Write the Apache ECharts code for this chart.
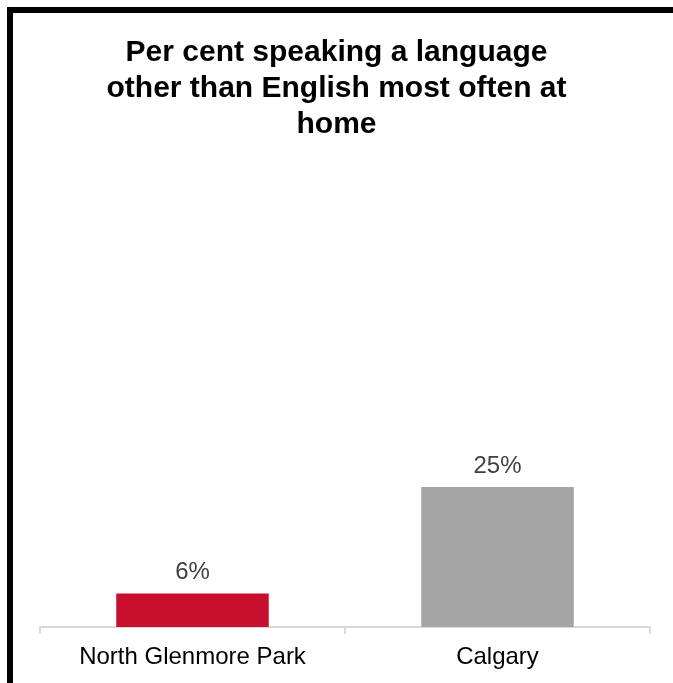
<!DOCTYPE html>
<html>
<head>
<meta charset="utf-8">
<script src="https://cdn.jsdelivr.net/npm/echarts@6/dist/echarts.min.js"></script>
<style>
html,body{margin:0;padding:0;background:#fff;}
#chart{width:673px;height:683px;}
</style>
</head>
<body>
<div id="chart"></div>
<script>
const categories = ['North Glenmore Park', 'Calgary'];
const values = [6, 25];
const barColors = ['#C8102E', '#A5A5A5'];
const titleText = 'Per cent speaking a language\nother than English most often at\nhome';

const chart = echarts.init(document.getElementById('chart'));
chart.setOption({
  animation: false,
  backgroundColor: '#fff',
  title: {
    text: titleText,
    left: 'center',
    top: 30,
    textStyle: {
      fontFamily: 'Liberation Sans',
      fontWeight: 'bold',
      fontSize: 30,
      lineHeight: 36,
      color: '#000'
    }
  },
  graphic: [{
    type: 'rect',
    shape: { x: 10, y: 10, width: 700, height: 700 },
    style: { fill: 'none', stroke: '#000', lineWidth: 6 },
    silent: true
  }],
  grid: { left: 40, right: 23, top: 459, bottom: 56 },
  xAxis: {
    type: 'category',
    data: categories,
    axisLine: { lineStyle: { color: '#D9D9D9', width: 2 } },
    axisTick: { show: true, length: 7, lineStyle: { color: '#D9D9D9', width: 2 } },
    axisLabel: { fontFamily: 'Liberation Sans', fontSize: 24, color: '#000', margin: 18 }
  },
  yAxis: {
    type: 'value',
    min: 0,
    max: 30,
    show: false
  },
  series: [{
    type: 'bar',
    barWidth: '50%',
    data: values.map((v, i) => ({ value: v, itemStyle: { color: barColors[i] } })),
    label: {
      show: true,
      position: 'top',
      distance: 9,
      formatter: '{c}%',
      fontFamily: 'Liberation Sans',
      fontSize: 24,
      color: '#404040'
    }
  }]
});
</script>
</body>
</html>
